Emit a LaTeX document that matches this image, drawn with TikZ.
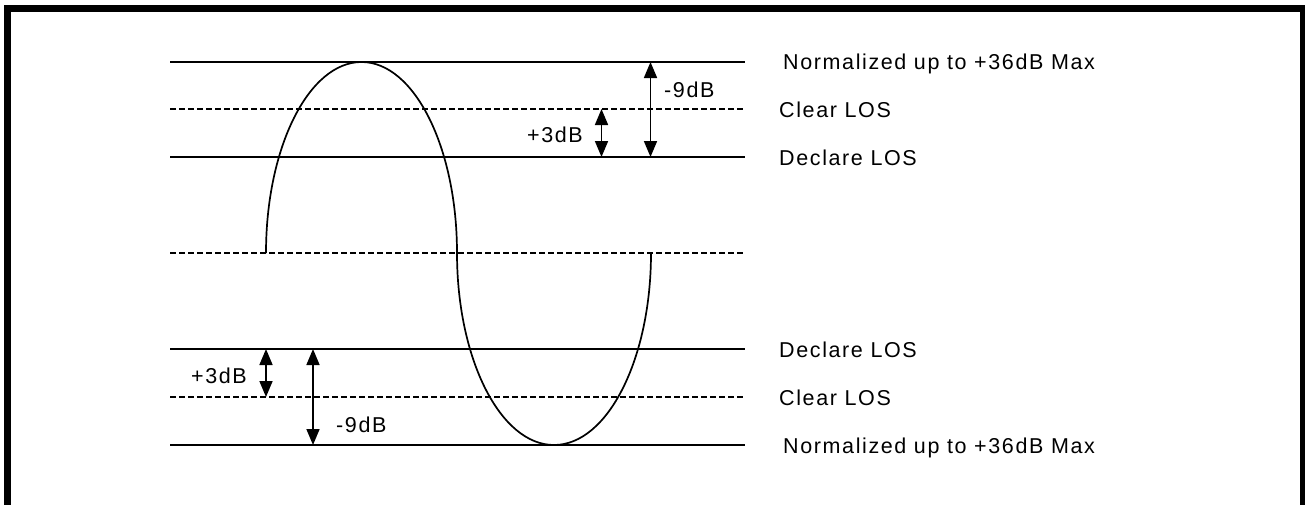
\documentclass[tikz,border=0pt]{standalone}
\usepackage{fontspec}
\setmainfont{Liberation Sans}
\usetikzlibrary{arrows.meta}

\begin{document}
\begin{tikzpicture}
		[x=1pt,y=-1pt,
		lvl/.style={line width=1.7pt},
		thr/.style={line width=1.8pt,dash pattern=on 6pt off 3pt},
		txt/.style={font=\fontsize{21.5}{25}\selectfont\addfontfeature{LetterSpace=7.5},inner sep=0pt,anchor=base west},
		gap/.style={line width=1.7pt,{Triangle[width=13pt,length=16pt]}-{Triangle[width=13pt,length=16pt]}}]

		\useasboundingbox (0,0) rectangle (1305,504);
		\draw[line width=7pt] (7,520) -- (7,8) -- (1303.5,8) -- (1303.5,520);

		% upper levels
		\coordinate (a0) at (170,62);    \coordinate (a1) at (745,62);
		\coordinate (b0) at (170,109);   \coordinate (b1) at (745,109);
		\coordinate (c0) at (170,157);   \coordinate (c1) at (745,157);
		% centre
		\coordinate (m0) at (170,253);   \coordinate (m1) at (745,253);
		% lower levels
		\coordinate (d0) at (170,349);   \coordinate (d1) at (745,349);
		\coordinate (e0) at (170,397);   \coordinate (e1) at (745,397);
		\coordinate (f0) at (170,445);   \coordinate (f1) at (745,445);

		\draw[lvl] (a0) -- (a1);
		\draw[thr] (b0) -- (b1);
		\draw[lvl] (c0) -- (c1);
		\draw[thr] (m0) -- (m1);
		\draw[lvl] (d0) -- (d1);
		\draw[thr] (e0) -- (e1);
		\draw[lvl] (f0) -- (f1);

		% signal
		\coordinate (w0) at (266,253);
		\draw[lvl] (w0) arc[start angle=180,end angle=0,x radius=95.5pt,y radius=191pt]
			coordinate (w1)
			arc[start angle=180,end angle=360,x radius=97pt,y radius=192pt]
			coordinate (w2);

		% level names
		\node[txt] (nT) at (783,69.5) {Normalized up to +36dB Max};
		\node[txt] (cT) at (779,117) {Clear LOS};
		\node[txt] (dT) at (779,165) {Declare LOS};
		\node[txt] (dB) at (779,357) {Declare LOS};
		\node[txt] (cB) at (779,405) {Clear LOS};
		\node[txt] (nB) at (783,453) {Normalized up to +36dB Max};

		% hysteresis and range
		\coordinate (h0) at (601.5,109); \coordinate (h1) at (601.5,157);
		\coordinate (r0) at (650.5,62);  \coordinate (r1) at (650.5,157);
		\coordinate (h2) at (266,349);   \coordinate (h3) at (266,397);
		\coordinate (r2) at (313,349);   \coordinate (r3) at (313,445);

		\draw[gap] (h0) -- (h1);
		\draw[gap] (r0) -- (r1);
		\draw[gap] (h2) -- (h3);
		\draw[gap] (r2) -- (r3);

		\node[txt] (hT) at (527,142) {+3dB};
		\node[txt] (rT) at (664,97) {-9dB};
		\node[txt] (hB) at (191,383) {+3dB};
		\node[txt] (rB) at (336,432) {-9dB};
\end{tikzpicture}
\end{document}
